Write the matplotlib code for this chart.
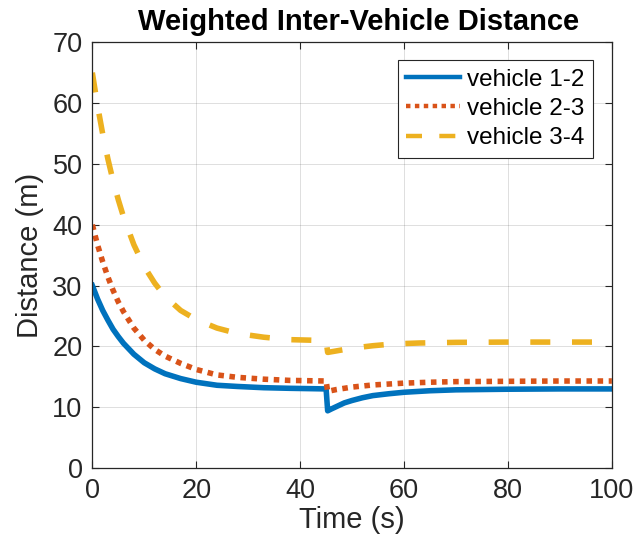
import matplotlib
matplotlib.use("Agg")
import matplotlib.pyplot as plt

plt.rcParams['font.family'] = ['Liberation Sans', 'DejaVu Sans']

# ---- data ----
t_12 = [0, 1, 2, 3, 4, 5, 6, 8, 10, 12, 14, 17, 20, 24, 28, 33, 38, 45,
        45.3, 46, 47, 48.5, 50, 52, 54, 57, 60, 65, 70, 80, 90, 100]
d_12 = [30, 27.8, 25.9, 24.3, 22.8, 21.6, 20.5, 18.7, 17.3, 16.3, 15.5, 14.7, 14.1, 13.6, 13.4, 13.2, 13.1, 13.0,
        9.4, 9.7, 10.1, 10.7, 11.1, 11.55, 11.9, 12.2, 12.45, 12.7, 12.85, 12.95, 13.0, 13.0]

t_23 = [0, 1, 2, 3, 4, 5, 6, 8, 10, 12, 14, 17, 20, 24, 28, 33, 38, 45,
        45.3, 47, 50, 54, 60, 65, 70, 80, 90, 100]
d_23 = [40, 36.7, 33.9, 31.4, 29.2, 27.3, 25.7, 23.0, 21.0, 19.5, 18.4, 17.2, 16.2, 15.3, 14.9, 14.6, 14.4, 14.3,
        12.6, 12.9, 13.3, 13.65, 13.95, 14.1, 14.2, 14.25, 14.3, 14.3]

t_34 = [0, 1, 2, 3, 4, 5, 6, 8, 10, 12, 14, 17, 20, 24, 28, 33, 38, 45,
        45.3, 47, 50, 54, 58, 63, 70, 80, 100]
d_34 = [65, 59.6, 54.9, 50.8, 47.2, 44.1, 41.3, 36.7, 33.1, 30.4, 28.2, 25.9, 24.4, 23.0, 22.1, 21.5, 21.1, 20.95,
        19.0, 19.25, 19.7, 20.1, 20.4, 20.55, 20.65, 20.7, 20.7]

labels = ['vehicle 1-2', 'vehicle 2-3', 'vehicle 3-4']
x_ticks = [0, 20, 40, 60, 80, 100]
y_ticks = [0, 10, 20, 30, 40, 50, 60, 70]

# ---- figure ----
fig = plt.figure(figsize=(6.38, 5.48), dpi=100)
ax = fig.add_axes([0.1447, 0.146, 0.8143, 0.777])

LW = 4.0
ax.plot(t_12, d_12, color='#0072BD', lw=LW, solid_joinstyle='round', label=labels[0])
ax.plot(t_23, d_23, color='#D95319', lw=LW, linestyle=(0, (1.0, 1.0)),
        dash_capstyle='butt', label=labels[1])
ax.plot(t_34, d_34, color='#EDB120', lw=LW, linestyle=(0, (3.6, 3.9)),
        dash_capstyle='butt', label=labels[2])

ax.set_xlim(0, 100)
ax.set_ylim(0, 70)
ax.set_xticks(x_ticks)
ax.set_yticks(y_ticks)
ax.grid(True, color='#262626', alpha=0.15, lw=0.7)
ax.set_axisbelow(True)

axc = '#262626'
for s in ax.spines.values():
    s.set_color(axc)
    s.set_linewidth(0.9)
ax.tick_params(direction='in', length=5, width=0.8, color=axc, labelcolor=axc,
               labelsize=19.5, top=True, right=True)
ax.tick_params(axis='x', pad=7)
ax.tick_params(axis='y', pad=7)

ax.set_xlabel('Time (s)', fontsize=21, color=axc, labelpad=2)
ax.set_ylabel('Distance (m)', fontsize=21, color=axc, labelpad=6)
ax.set_title('Weighted Inter-Vehicle Distance', fontsize=21, fontweight='bold',
             color='black', pad=9, x=0.513)

leg = ax.legend(loc='upper right', bbox_to_anchor=(0.9635, 0.958), borderaxespad=0,
                fontsize=17.5, handlelength=2.2, handletextpad=0.3, labelspacing=0.3,
                borderpad=0.35, fancybox=False, framealpha=1, edgecolor=axc)
leg.get_frame().set_linewidth(0.8)
for line in leg.get_lines():
    line.set_linewidth(3.2)
for txt in leg.get_texts():
    txt.set_color('black')

fig.savefig('out.png', dpi=100)
